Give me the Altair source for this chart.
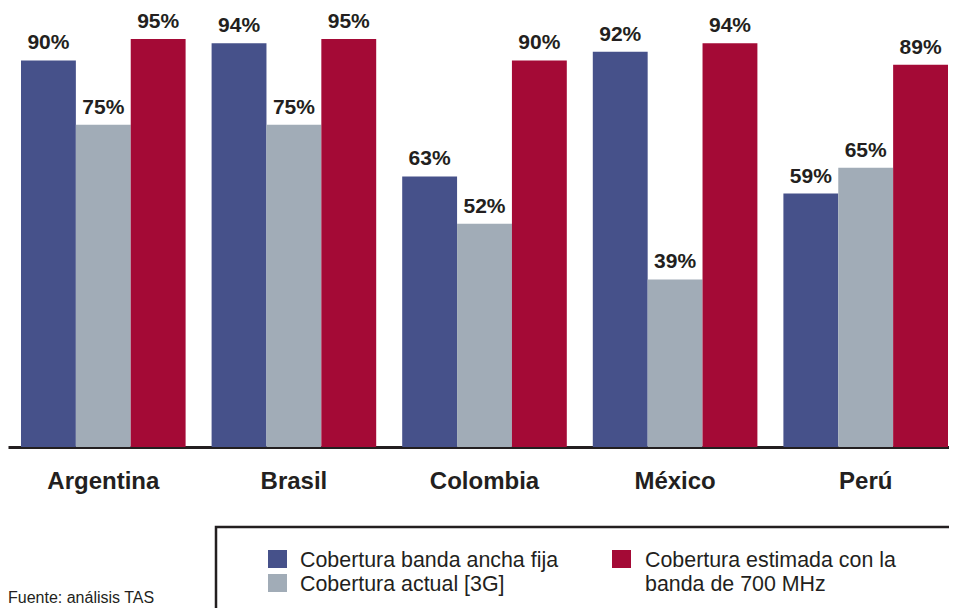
import altair as alt
import pandas as pd

countries = ["Argentina", "Brasil", "Colombia", "México", "Perú"]
series = ["Cobertura banda ancha fija", "Cobertura actual [3G]", "Cobertura estimada con la banda de 700 MHz"]
legend_labels = ["Cobertura banda ancha fija", "Cobertura actual [3G]", "Cobertura estimada con la\nbanda de 700 MHz"]
fija = [90, 94, 63, 92, 59]
actual = [75, 75, 52, 39, 65]
estimada = [95, 95, 90, 94, 89]
colors = ["#46518a", "#a1acb7", "#a40a36"]
source_text = "Fuente: análisis TAS"

TXT = "#231f20"
FONT = "Liberation Sans"

rows = []
for s, vals in zip(series, [fija, actual, estimada]):
    for c, v in zip(countries, vals):
        rows.append({"country": c, "series": s, "value": v, "label": f"{v}%"})
df = pd.DataFrame(rows)

W, H = 941, 439
step = 190.6
p_in = 26 / step
p_out = (W / step - (5 - p_in)) / 2
outer = W - step * (5 - p_in)
align = 13 / outer

xenc = alt.X("country:N", sort=countries, title=None,
             scale=alt.Scale(paddingInner=p_in, paddingOuter=p_out, align=align),
             axis=alt.Axis(labelAngle=0, labelFont=FONT, labelFontSize=24, labelFontWeight="bold",
                           labelColor=TXT, labelBaseline="alphabetic", labelPadding=41,
                           ticks=False, tickSize=0, domainColor=TXT, domainWidth=3, grid=False))
xoff = alt.XOffset("series:N", sort=series, scale=alt.Scale(paddingInner=0, paddingOuter=0))
yenc = alt.Y("value:Q", scale=alt.Scale(domain=[0, 102.21], nice=False, zero=True), axis=None)
cenc = alt.Color("series:N", sort=series, scale=alt.Scale(domain=series, range=colors), legend=None)

base = alt.Chart(df)
bars = base.mark_bar(cornerRadius=0).encode(x=xenc, xOffset=xoff, y=yenc, color=cenc)
labels = base.mark_text(baseline="alphabetic", dy=-11, font=FONT, fontSize=21,
                        fontWeight="bold", color=TXT).encode(
    x=xenc, xOffset=xoff, y=yenc, text="label:N")

one = pd.DataFrame({"k": [0]})
box = alt.Chart(one).mark_rect(fill="white", stroke=TXT, strokeWidth=2.5).encode(
    x=alt.value(208), x2=alt.value(990), y=alt.value(519), y2=alt.value(640))

sq_pos = [(260, 542), (260, 566), (604, 542)]
txt_pos = [(292, 559), (292, 583), (637, 559)]
legend_layers = []
for i in range(3):
    sx, sy = sq_pos[i]
    legend_layers.append(alt.Chart(one).mark_rect(color=colors[i]).encode(
        x=alt.value(sx), x2=alt.value(sx + 19), y=alt.value(sy), y2=alt.value(sy + 18)))
    tx, ty = txt_pos[i]
    legend_layers.append(alt.Chart(one).mark_text(
        align="left", baseline="alphabetic", font=FONT, fontSize=21.4, color=TXT,
        lineBreak="\n", lineHeight=24).encode(
        x=alt.value(tx), y=alt.value(ty), text=alt.value(legend_labels[i])))

src = alt.Chart(one).mark_text(align="left", baseline="alphabetic", font=FONT, fontSize=16,
                               color=TXT).encode(
    x=alt.value(0), y=alt.value(595), text=alt.value(source_text))

chart = alt.layer(bars, labels, box, *legend_layers, src).properties(
    width=W, height=H,
    background="white",
    padding={"left": 0, "top": 0, "right": 0, "bottom": 161},
    autosize=alt.AutoSizeParams(type="none"),
).configure_view(stroke=None)

chart.save("out.html", embed_options={"renderer": "svg", "actions": False})
